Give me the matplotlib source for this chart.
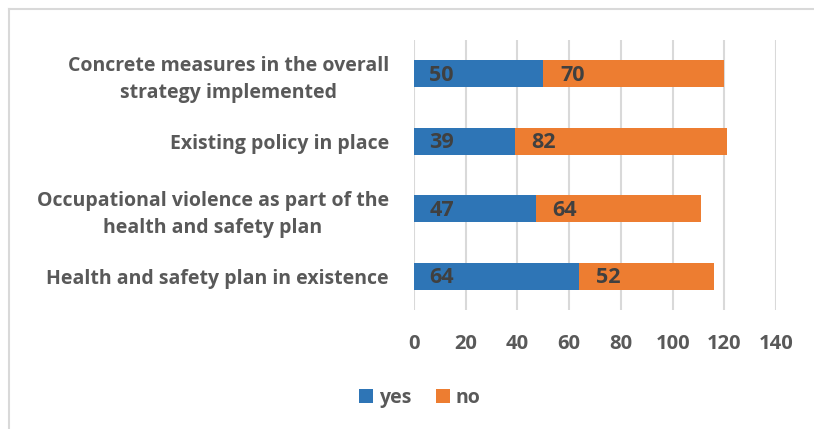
import matplotlib.pyplot as plt
from matplotlib.lines import Line2D

categories = [
    "Concrete measures in the overall\nstrategy implemented",
    "Existing policy in place",
    "Occupational violence as part of the\nhealth and safety plan",
    "Health and safety plan in existence",
]
yes = [50, 39, 47, 64]
no = [70, 82, 64, 52]
xticks = [0, 20, 40, 60, 80, 100, 120, 140]

BLUE = "#2E75B6"
ORANGE = "#ED7D31"
GRID = "#D9D9D9"
TEXT = "#595959"
LABEL = "#404040"

plt.rcParams["font.family"] = ["Open Sans", "DejaVu Sans"]

fig = plt.figure(figsize=(8.14, 4.29), dpi=100)
ax = fig.add_axes([414 / 814, 1 - 310 / 429, 362 / 814, 270 / 429])

pos = list(range(len(categories)))
b1 = ax.barh(pos, yes, height=0.4, color=BLUE, label="yes")
b2 = ax.barh(pos, no, left=yes, height=0.4, color=ORANGE, label="no")

# value labels sit near the base of each segment
for i in pos:
    ax.annotate(str(yes[i]), (0, i), xytext=(11, -1), textcoords="offset points",
                ha="left", va="center", fontsize=15.5, fontweight="bold", color=LABEL)
    ax.annotate(str(no[i]), (yes[i], i), xytext=(12, -1), textcoords="offset points",
                ha="left", va="center", fontsize=15.5, fontweight="bold", color=LABEL)

ax.set_ylim(len(categories) - 0.5, -0.5)
ax.set_xlim(0, 140)
ax.set_xticks(xticks)
ax.set_xticklabels([str(t) for t in xticks])
ax.set_yticks(pos)
ax.set_yticklabels(categories, ha="right", multialignment="center")
ax.tick_params(axis="y", length=0, pad=18, labelsize=14, labelcolor=TEXT)
for lab in ax.get_yticklabels():
    lab.set_fontweight("bold")
    lab.set_linespacing(1.45)
ax.tick_params(axis="x", length=0, pad=17, labelsize=14.5, labelcolor=TEXT)
for lab in ax.get_xticklabels():
    lab.set_fontweight("bold")

ax.grid(axis="x", color=GRID, linewidth=1.5)
ax.set_axisbelow(True)
for s in ax.spines.values():
    s.set_visible(False)

fig.legend(handles=[b1, b2], labels=["yes", "no"], loc="center",
           bbox_to_anchor=(420 / 814, 1 - 398 / 429), ncol=2, frameon=False,
           handlelength=0.7, handleheight=0.7, handletextpad=0.3, columnspacing=1.3,
           prop={"size": 14, "weight": "bold"}, labelcolor=TEXT)

# chart area frame (left and top edges visible)
fig.add_artist(Line2D([9 / 814, 9 / 814], [0, 1 - 9 / 429], transform=fig.transFigure,
                      color=GRID, linewidth=1.5))
fig.add_artist(Line2D([9 / 814, 1], [1 - 9 / 429, 1 - 9 / 429], transform=fig.transFigure,
                      color=GRID, linewidth=1.5))

fig.savefig("out.png", dpi=100)
